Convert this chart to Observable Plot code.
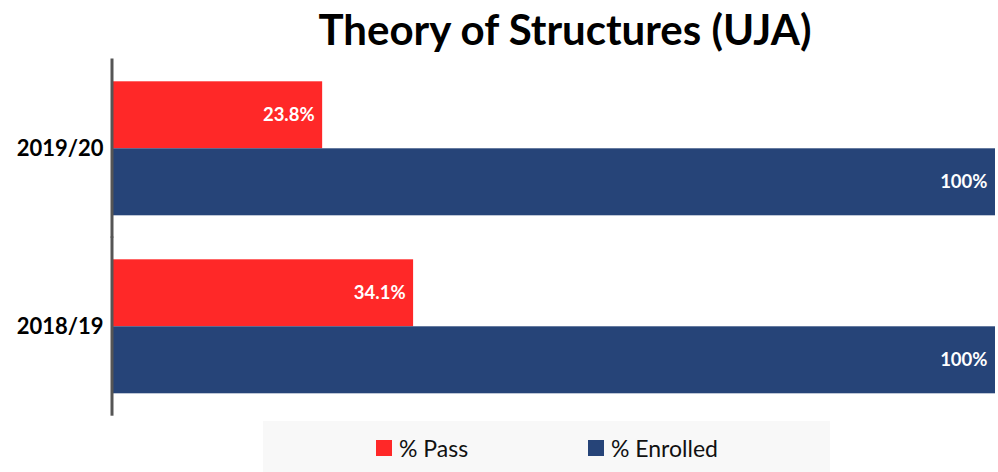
<!DOCTYPE html>
<html>
<head>
<meta charset="utf-8">
<script src="https://cdn.jsdelivr.net/npm/d3@7"></script>
<script src="https://cdn.jsdelivr.net/npm/@observablehq/plot@0.6"></script>
<style>
  html, body { margin: 0; padding: 0; background: #fff; }
  #wrap { position: relative; width: 998px; height: 472px; overflow: hidden; font-family: Lato, sans-serif; }
  #title { position: absolute; left: 132px; width: 866px; top: 4px; text-align: center; font-size: 42px; font-weight: bold; color: #000; line-height: 50px; }
  #chart { position: absolute; left: 0; top: 55px; }
  #legendbox { position: absolute; left: 263px; top: 421px; width: 567px; height: 51px; background: #f8f8f8; }
  #legendbox .lg-swatches { position: absolute; left: 113px; top: 13px; margin: 0; min-height: 0; display: flex; align-items: center; }
  #legendbox .lg-swatch { margin-right: 0 !important; display: inline-flex; align-items: center; }
  #legendbox span.lg-swatch:first-of-type { width: 212px; }
  #legendbox .lg-swatch svg { margin-right: 7px !important; }
</style>
</head>
<body>
<div id="wrap">
  <div id="title">Theory of Structures (UJA)</div>
  <div id="chart"></div>
  <div id="legendbox"></div>
</div>
<script>
const years = ["2019/20", "2018/19"];
const series = ["% Pass", "% Enrolled"];
const passValues = [23.8, 34.1];
const enrolledValues = [100, 100];
const colors = ["#ff2828", "#264478"];

const data = [];
years.forEach((yr, i) => {
  data.push({year: yr, series: series[0], value: passValues[i]});
  data.push({year: yr, series: series[1], value: enrolledValues[i]});
});

const chart = Plot.plot({
  width: 998,
  height: 365,
  marginLeft: 112,
  marginRight: 3,
  marginTop: 25.7,
  marginBottom: 25.7,
  style: {fontFamily: "Lato, sans-serif", fontSize: "22px", fontWeight: "bold", color: "#000", background: "transparent"},
  x: {domain: [0, 100], axis: null},
  y: {domain: series, padding: 0, axis: null},
  fy: {domain: years, paddingInner: 0.244, paddingOuter: 0, axis: "left", label: null, tickSize: 0, tickPadding: 9},
  color: {domain: series, range: colors},
  marks: [
    Plot.barX(data, {fy: "year", y: "series", x: "value", fill: "series"}),
    Plot.text(data, {fy: "year", y: "series", x: "value", text: d => d.value + "%", textAnchor: "end", dx: -8, fill: "white", fontSize: 18.5, fontWeight: "bold"}),
    Plot.ruleX([0], {stroke: "#555", strokeWidth: 3, dx: -0.5, insetTop: -22.5, insetBottom: -21.7})
  ]
});
document.getElementById("chart").appendChild(chart);

const legend = Plot.legend({
  legend: "swatches",
  color: {domain: series, range: colors},
  swatchSize: 16,
  className: "lg",
  style: {fontFamily: "Lato, sans-serif", fontSize: "23px", color: "#111"}
});
document.getElementById("legendbox").appendChild(legend);
</script>
</body>
</html>
